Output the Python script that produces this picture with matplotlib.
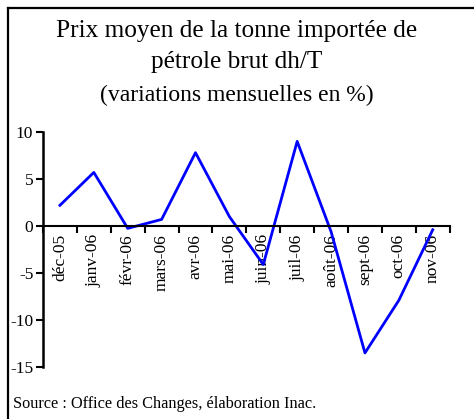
import numpy as np
import matplotlib.pyplot as plt
from matplotlib.lines import Line2D

plt.rcParams['font.family'] = ['Liberation Serif', 'DejaVu Serif']
plt.rcParams['axes.unicode_minus'] = False

mois = ['déc-05', 'janv-06', 'févr-06', 'mars-06', 'avr-06', 'mai-06',
        'juin-06', 'juil-06', 'août-06', 'sept-06', 'oct-06', 'nov-06']
variation = [2.2, 5.7, -0.25, 0.7, 7.8, 1.0, -4.1, 9.0, -0.6, -13.5, -7.9, -0.4]
yticks = [-15, -10, -5, 0, 5, 10]

fig = plt.figure(figsize=(4.74, 4.19), dpi=100)
ax = fig.add_axes([0.0907, 0.124, 0.858, 0.561])

x = np.arange(len(mois))
ax.plot(x, variation, color='#0000ff', lw=2.0)

ax.set_xlim(-0.5, len(mois) - 0.5)
ax.set_ylim(-15, 10)
ax.set_yticks(yticks)
ax.set_yticklabels([str(v) for v in yticks])

# ticks at the category boundaries, labels at the centres
ax.set_xticks(np.arange(len(mois) + 1) - 0.5)
ax.set_xticklabels([])
ax.set_xticks(x, minor=True)
ax.set_xticklabels(mois, minor=True)
ax.tick_params(axis='x', which='major', direction='out', length=5, width=1.5)
ax.tick_params(axis='x', which='minor', length=0, pad=6, labelrotation=90, labelsize=12.5)
ax.tick_params(axis='y', direction='out', length=5, width=1.5, pad=2, labelsize=12.5)

ax.spines['bottom'].set_position(('data', 0))
ax.spines['bottom'].set_linewidth(1.5)
ax.spines['left'].set_linewidth(1.8)
ax.spines['top'].set_visible(False)
ax.spines['right'].set_visible(False)

fig.text(0.5, 1 - 31 / 419, 'Prix moyen de la tonne importée de', ha='center', va='center', fontsize=18.2)
fig.text(0.5, 1 - 62 / 419, 'pétrole brut dh/T', ha='center', va='center', fontsize=18.2)
fig.text(0.5, 1 - 95 / 419, '(variations mensuelles en %)', ha='center', va='center', fontsize=17)
fig.text(13 / 474, 1 - 404 / 419, 'Source : Office des Changes, élaboration Inac.', ha='left', va='center', fontsize=11.7)

# cadre (haut et gauche)
fig.add_artist(Line2D([8 / 474, 1], [1 - 8 / 419] * 2, color='black', lw=1.6))
fig.add_artist(Line2D([8 / 474] * 2, [0, 1 - 8 / 419], color='black', lw=1.6))

fig.savefig('out.png', dpi=100)
